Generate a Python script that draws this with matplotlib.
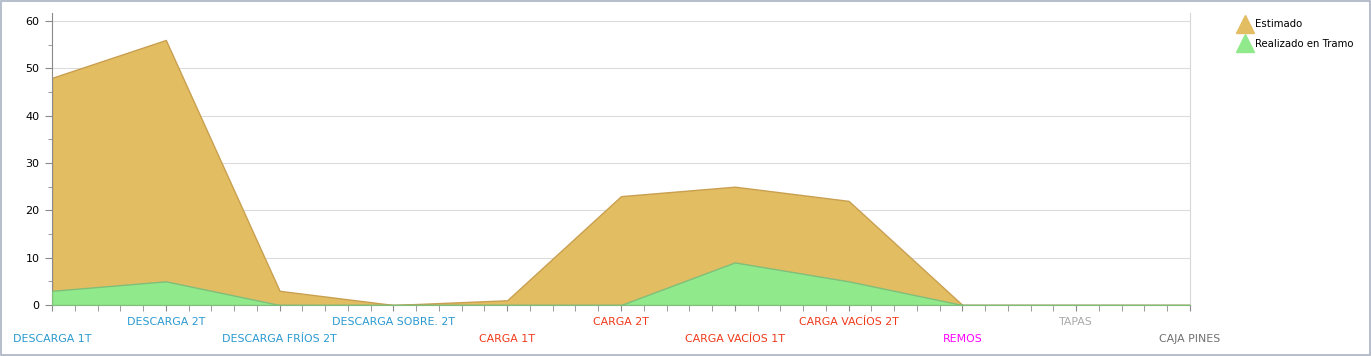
import matplotlib.pyplot as plt
from matplotlib.patches import Rectangle
from matplotlib.lines import Line2D

categorias = ["DESCARGA 1T", "DESCARGA 2T", "DESCARGA FRÍOS 2T", "DESCARGA SOBRE. 2T",
              "CARGA 1T", "CARGA 2T", "CARGA VACÍOS 1T", "CARGA VACÍOS 2T",
              "REMOS", "TAPAS", "CAJA PINES"]
colores_cat = ["#2a9ad0"] * 4 + ["#f03a1a"] * 4 + ["#ff00ff", "#a8a8a8", "#707070"]
estimado = [48, 56, 3, 0, 1, 23, 25, 22, 0, 0, 0]
realizado = [3, 5, 0, 0, 0, 0, 9, 5, 0, 0, 0]

fig = plt.figure(figsize=(13.71, 3.56), dpi=100)
fig.patches.append(Rectangle((0.001, 0.002), 0.998, 0.995, transform=fig.transFigure,
                             fill=False, edgecolor="#a9b3c4", linewidth=1.2))
ax = fig.add_axes([52 / 1371, 1 - 305 / 356, (1190 - 52) / 1371, (305 - 13) / 356])

x = list(range(len(categorias)))
ax.fill_between(x, estimado, color="#e3bd62", edgecolor="#c9a050", linewidth=1, zorder=2)
ax.fill_between(x, realizado, color="#90ea8c", edgecolor="#7fbf7a", linewidth=1, zorder=3)

ax.set_xlim(0, len(categorias) - 1)
ax.set_ylim(0, 61.7)
ax.set_yticks(range(0, 61, 10))
ax.set_yticks(range(0, 61, 5), minor=True)
ax.set_xticks(x)
ax.set_xticks([i / 5 for i in range(5 * (len(categorias) - 1) + 1)], minor=True)
ax.set_xticklabels([])
ax.grid(axis="y", color="#dcdcdc", linewidth=0.8, zorder=0)
ax.set_axisbelow(True)

ax.spines["top"].set_visible(False)
ax.spines["right"].set_color("#d8d8d8")
ax.spines["left"].set_color("#8a8a8a")
ax.spines["bottom"].set_color("#8a8a8a")
ax.tick_params(axis="both", which="both", color="#8a8a8a")
ax.tick_params(axis="y", which="major", length=5, labelsize=8, pad=4)
ax.tick_params(axis="y", which="minor", length=3)
ax.tick_params(axis="x", which="both", length=4)

for i, (lab, c) in enumerate(zip(categorias, colores_cat)):
    off = -24.5 if i % 2 == 0 else -12.2
    ax.annotate(lab, xy=(i, 0), xycoords=("data", "axes fraction"),
                xytext=(0, off), textcoords="offset points",
                ha="center", va="center", fontsize=7.9, color=c)

handles = [Line2D([], [], marker="^", linestyle="none", markersize=12.5, color="#e3bd62"),
           Line2D([], [], marker="^", linestyle="none", markersize=12.5, color="#90ea8c")]
fig.legend(handles, ["Estimado", "Realizado en Tramo"], loc="upper left",
           bbox_to_anchor=(1232 / 1371, 1 - 14 / 356), frameon=False, fontsize=7.3,
           handletextpad=0.2, labelspacing=0.95, handlelength=1.6, borderpad=0)

fig.savefig("out.png", dpi=100)
